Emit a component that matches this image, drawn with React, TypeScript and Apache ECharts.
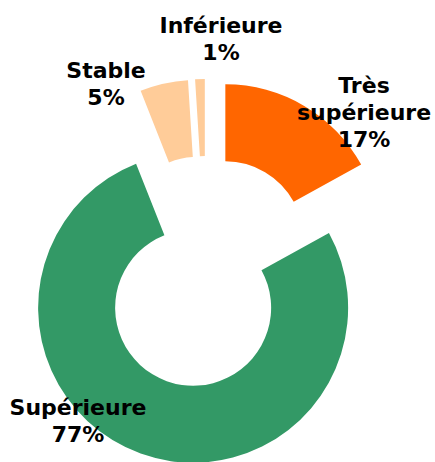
import React, { useEffect, useRef } from "react";
import * as echarts from "echarts";

const categories = ["Très supérieure", "Supérieure", "Stable", "Inférieure"];
const values = [17, 77, 5, 1];
const colors = ["#FF6600", "#339966", "#FFCC99", "#FFCC99"];

// label anchor points (layout, not data)
const labelAnchors: [number, number][] = [
  [364, 112],
  [78, 421],
  [106, 84],
  [221, 39],
];

export default function App() {
  const ref = useRef<HTMLDivElement>(null);
  useEffect(() => {
    if (!ref.current) return;
    const chart = echarts.init(ref.current, undefined, { renderer: "svg" });
    const total = values.reduce((a, b) => a + b, 0);
    chart.setOption({
      animation: false,
      backgroundColor: "#ffffff",
      graphic: categories.map((name, i) => ({
        type: "text",
        x: labelAnchors[i][0],
        y: labelAnchors[i][1],
        z: 10,
        style: {
          text:
            (i === 0 ? name.replace(" ", "\n") : name) +
            "\n" +
            Math.round((values[i] / total) * 100) +
            "%",
          fill: "#000000",
          font: "bold 22px 'DejaVu Sans', Verdana, sans-serif",
          lineHeight: 27,
          align: "center",
          verticalAlign: "middle",
        },
      })),
      series: [
        {
          type: "pie",
          center: [206, 272],
          radius: [78, 155],
          startAngle: 90,
          clockwise: true,
          selectedMode: "multiple",
          selectedOffset: 38,
          select: { itemStyle: { borderWidth: 0 } },
          emphasis: { disabled: true },
          label: { show: false },
          labelLine: { show: false },
          data: categories.map((name, i) => ({
            name,
            value: values[i],
            selected: true,
            itemStyle: { color: colors[i], borderWidth: 0 },
          })),
        },
      ],
    });
    return () => chart.dispose();
  }, []);
  return (
    <div
      ref={ref}
      style={{ position: "fixed", left: 0, top: 0, width: 435, height: 462 }}
    />
  );
}
